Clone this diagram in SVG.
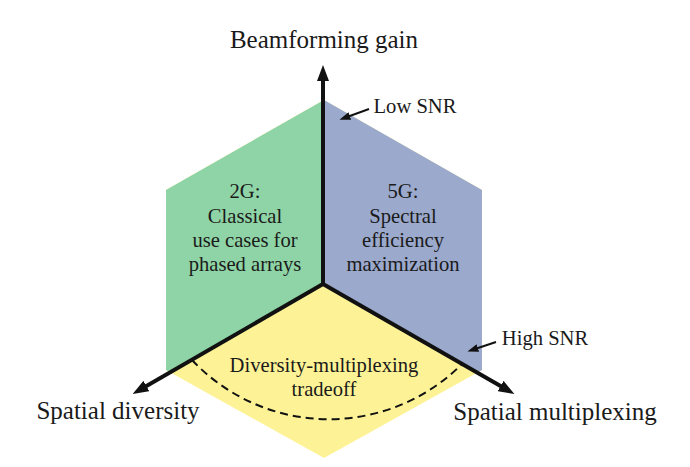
<svg xmlns="http://www.w3.org/2000/svg" width="690" height="467" viewBox="0 0 690 467">
<style>
text{font-family:"Liberation Serif","Times New Roman",serif;fill:#1a1a1a;text-anchor:middle}
.big{font-size:25px}
.mid{font-size:20.6px}
.axis{stroke:#111;stroke-width:4;fill:none}
.thin{stroke:#111;stroke-width:2;fill:none}
</style>
<defs>
<clipPath id="hexclip"><polygon points="324,100 482,190 482,370 324,458 166,370 166,190"/></clipPath>
<marker id="bigArrow" markerUnits="userSpaceOnUse" markerWidth="17" markerHeight="12" refX="4" refY="6" orient="auto"><path d="M0,0 L16,6 L0,12 z" fill="#111"/></marker>
<marker id="smallArrow" markerUnits="userSpaceOnUse" markerWidth="11" markerHeight="8" refX="3" refY="4" orient="auto"><path d="M0,0 L11,4 L0,8 z" fill="#111"/></marker>
</defs>
<g id="regions" clip-path="url(#hexclip)">
<g id="tradeoff-region"><rect x="0" y="0" width="690" height="467" fill="#fdf396"/></g>
<g id="region-2g"><polygon points="323,284 323,0 0,0 0,470.5" fill="#8fd4a6"/></g>
<g id="region-5g"><polygon points="323,284 323,0 690,0 690,496" fill="#9aa9cc"/></g>
</g>
<g id="connectors">
<line class="axis" x1="323" y1="284" x2="323" y2="77" marker-end="url(#bigArrow)"/>
<line class="axis" x1="323" y1="284" x2="143" y2="388" marker-end="url(#bigArrow)"/>
<line class="axis" x1="323" y1="284" x2="504" y2="388" marker-end="url(#bigArrow)"/>
<path d="M192,360 A188,188 0 0 0 462,364" stroke="#111" stroke-width="2" fill="none" stroke-dasharray="8,5"/>
<line class="thin" x1="369" y1="109" x2="347" y2="117" marker-end="url(#smallArrow)"/>
<line class="thin" x1="496" y1="342" x2="475" y2="349" marker-end="url(#smallArrow)"/>
</g>
<g id="label-beamforming"><text class="big" x="324" y="48">Beamforming gain</text></g>
<g id="label-diversity"><text class="big" x="118" y="419">Spatial diversity</text></g>
<g id="label-multiplexing"><text class="big" x="555" y="420">Spatial multiplexing</text></g>
<g id="label-low-snr"><text class="mid" x="415" y="113">Low SNR</text></g>
<g id="label-high-snr"><text class="mid" x="545" y="345">High SNR</text></g>
<g id="node-2g">
<text class="mid" x="245" y="198">2G:</text>
<text class="mid" x="245" y="223">Classical</text>
<text class="mid" x="245" y="247">use cases for</text>
<text class="mid" x="245" y="271">phased arrays</text>
</g>
<g id="node-5g">
<text class="mid" x="403" y="198">5G:</text>
<text class="mid" x="403" y="223">Spectral</text>
<text class="mid" x="403" y="247">efficiency</text>
<text class="mid" x="403" y="271">maximization</text>
</g>
<g id="node-tradeoff">
<text class="mid" x="324" y="372">Diversity-multiplexing</text>
<text class="mid" x="324" y="396">tradeoff</text>
</g>
</svg>
